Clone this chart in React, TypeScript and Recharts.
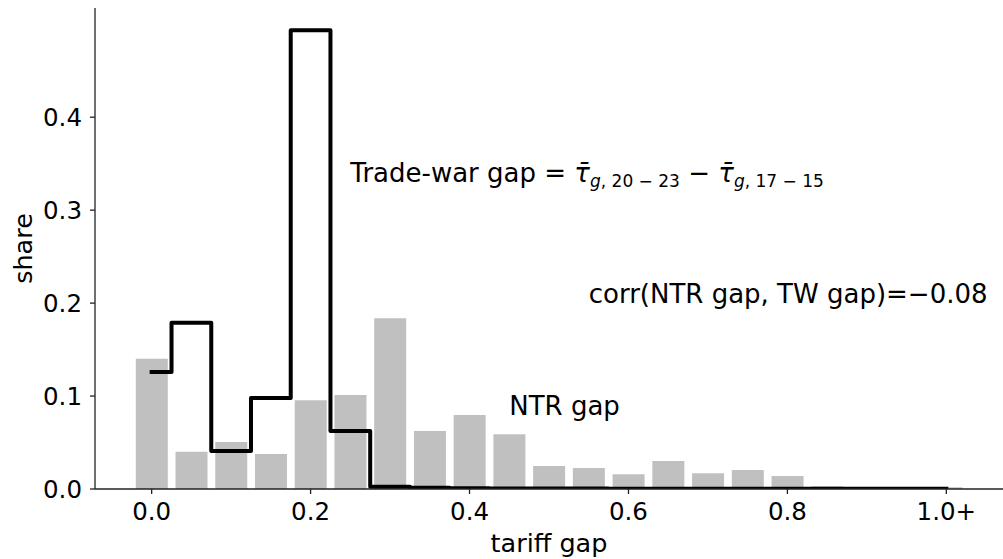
import React from "react";
import { ComposedChart, Bar, Line, XAxis, YAxis, ReferenceDot } from "recharts";

// bin centres of the tariff-gap histogram (last bin is "1.0+")
const binCenters = [
  0, 0.05, 0.1, 0.15, 0.2, 0.25, 0.3, 0.35, 0.4, 0.45, 0.5,
  0.55, 0.6, 0.65, 0.7, 0.75, 0.8, 0.85, 0.9, 0.95, 1.0,
];

// NTR gap shares (grey bars)
const ntrShare = [
  0.14, 0.04, 0.0505, 0.0376, 0.0956, 0.101, 0.1837, 0.0623, 0.0795, 0.059, 0.0247,
  0.0226, 0.016, 0.03, 0.017, 0.0204, 0.014, 0.003, 0.001, 0.0005, 0.002,
];

// trade-war gap shares (black step line)
const twShare = [
  0.126, 0.179, 0.041, 0.098, 0.4935, 0.0623, 0.0025, 0.0014, 0.0008, 0.0006, 0.0005,
  0.0005, 0.0004, 0.0004, 0.0003, 0.0003, 0.0003, 0.0002, 0.0002, 0.0002, 0.0002,
];

const xTicks = [0, 0.2, 0.4, 0.6, 0.8, 1.0];
const yTicks = [0, 0.1, 0.2, 0.3, 0.4];

const FONT = "DejaVu Sans";
const AXIS = "#222";

const data = binCenters.map((x, i) => ({ x, ntr: ntrShare[i], tw: twShare[i] }));

const fmtX = (v: number) => (v >= 1 ? "1.0+" : v.toFixed(1));

function TradeWarLabel(props: any) {
  const vb = props.viewBox || {};
  return (
    <text x={vb.x} y={vb.y} fontSize={26} fontFamily={FONT} fill="#000">
      {"Trade-war gap = "}
      <tspan fontStyle="italic">{"\u03c4\u0304"}</tspan>
      <tspan fontSize={17} dy={4.5}>
        <tspan fontStyle="italic">g</tspan>
        {", 20 \u2212 23"}
      </tspan>
      <tspan dy={-4.5}>{" \u2212 "}</tspan>
      <tspan fontStyle="italic">{"\u03c4\u0304"}</tspan>
      <tspan fontSize={17} dy={4.5}>
        <tspan fontStyle="italic">g</tspan>
        {", 17 \u2212 15"}
      </tspan>
    </text>
  );
}

const plainLabel = (txt: string) => (props: any) => {
  const vb = props.viewBox || {};
  return (
    <text x={vb.x} y={vb.y} fontSize={26} fontFamily={FONT} fill="#000">
      {txt}
    </text>
  );
};

export default function App() {
  return (
    <div style={{ position: "absolute", left: 0, top: 0, width: 1003, height: 559, background: "#fff" }}>
      <ComposedChart
        width={1003}
        height={559}
        data={data}
        margin={{ top: 8, right: 0, bottom: 0, left: 0 }}
      >
        <XAxis
          dataKey="x"
          type="number"
          domain={[-0.0713, 1.0713]}
          ticks={xTicks}
          tickFormatter={fmtX}
          height={70}
          tickSize={5}
          tickMargin={9}
          stroke={AXIS}
          strokeWidth={1.3}
          tick={{ fill: "#000", fontSize: 24.5, fontFamily: FONT }}
          allowDataOverflow
          label={(p: any) => {
            const vb = p.viewBox || {};
            return (
              <text
                x={vb.x + vb.width / 2}
                y={vb.y + 62.5}
                textAnchor="middle"
                fontSize={25.5}
                fontFamily={FONT}
                fill="#000"
              >
                tariff gap
              </text>
            );
          }}
        />
        <YAxis
          type="number"
          domain={[0, 0.5175]}
          ticks={yTicks}
          tickFormatter={(v: number) => v.toFixed(1)}
          width={95}
          tickSize={5}
          tickMargin={8}
          stroke={AXIS}
          strokeWidth={1.3}
          tick={{ fill: "#000", fontSize: 24.5, fontFamily: FONT }}
          allowDataOverflow
          label={(p: any) => {
            const vb = p.viewBox || {};
            const cx = vb.x + 31.5;
            const cy = vb.y + vb.height / 2;
            return (
              <text
                x={cx}
                y={cy}
                transform={`rotate(-90, ${cx}, ${cy})`}
                textAnchor="middle"
                fontSize={25.5}
                fontFamily={FONT}
                fill="#000"
              >
                share
              </text>
            );
          }}
        />
        <Bar dataKey="ntr" fill="#c0c0c0" barSize={32} isAnimationActive={false} />
        <Line
          dataKey="tw"
          type="step"
          stroke="#000"
          strokeWidth={4}
          strokeLinejoin="round"
          strokeLinecap="square"
          dot={false}
          activeDot={false}
          isAnimationActive={false}
        />
        <ReferenceDot x={0.25} y={0.33} r={0} fill="none" stroke="none" label={TradeWarLabel} />
        <ReferenceDot x={0.55} y={0.2} r={0} fill="none" stroke="none" label={plainLabel("corr(NTR gap, TW gap)=\u22120.08")} />
        <ReferenceDot x={0.45} y={0.08} r={0} fill="none" stroke="none" label={plainLabel("NTR gap")} />
      </ComposedChart>
    </div>
  );
}
